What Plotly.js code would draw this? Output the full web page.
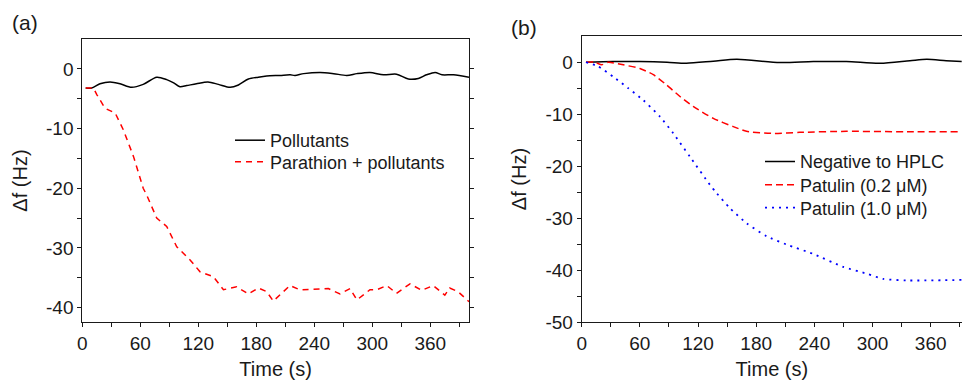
<!DOCTYPE html>
<html>
<head>
<meta charset="utf-8">
<script src="https://cdn.plot.ly/plotly-3.0.1.min.js"></script>
<style>html,body{margin:0;padding:0;background:#fff;}#chart{width:962px;height:380px;}</style>
</head>
<body>
<div id="chart"></div>
<script>
// ---- Panel (a) data ----
const timeA_pollutants = [3.5, 9.7, 18.3, 28.7, 39, 51, 63, 77, 87.3, 94, 101, 108, 118, 130, 140.8, 153, 161.5, 171.8, 182, 190.7, 204.5, 215, 220, 229, 246, 260, 273.6, 284, 297.6, 311.5, 325, 337.3, 347.6, 356, 365, 372, 384, 400];
const dfA_pollutants = [-3.2, -3.2, -2.5, -2.2, -2.5, -3.1, -2.6, -1.4, -1.8, -2.3, -3.0, -2.8, -2.5, -2.2, -2.6, -3.1, -2.7, -1.7, -1.4, -1.2, -1.1, -1.0, -1.1, -0.8, -0.6, -0.8, -1.1, -0.8, -0.6, -1.0, -0.9, -1.7, -1.6, -1.0, -0.6, -1.0, -1.0, -1.4];
const timeA_parathion = [3.5, 11.5, 15, 23.5, 34, 42.4, 53, 63, 66.5, 77, 87.3, 97.7, 111.5, 121.8, 135.6, 146, 159.6, 171.8, 182, 190.7, 197.6, 214.8, 225, 242.4, 254.5, 266.5, 277, 284, 297.6, 304.5, 315, 325, 339, 351, 363, 375, 380, 388.6, 400];
const dfA_parathion = [-3.2, -3.2, -4.3, -6.6, -7.4, -10.2, -14.7, -20, -21.1, -25, -26.4, -29.8, -32, -34, -34.8, -37, -36.5, -37.7, -36.7, -37.3, -38.9, -36.3, -37, -36.9, -36.8, -37.7, -36.8, -38.7, -37, -37, -36.3, -37.6, -36, -37.1, -36.3, -37.9, -36.7, -37.3, -39];

// ---- Panel (b) data ----
const timeB_negative = [4.4, 32.6, 60, 88, 108, 135.7, 160, 204.5, 239, 273, 307.7, 338.6, 356, 376, 392];
const dfB_negative = [0, 0.13, 0.13, 0, -0.2, 0.2, 0.57, -0.07, 0.13, 0.13, -0.2, 0.3, 0.57, 0.3, 0.13];
const timeB_pat02 = [4.4, 13.7, 20.6, 27.5, 42.9, 60, 73.9, 87.7, 101.4, 115, 135.7, 156.4, 170, 197.6, 225, 273, 342, 392];
const dfB_pat02 = [0, 0, -0.5, 0, -0.5, -1.2, -2.4, -4.4, -6.6, -8.5, -10.8, -12.4, -13.3, -13.7, -13.5, -13.3, -13.4, -13.4];
const timeB_pat10 = [4.4, 17, 32.6, 48, 63.5, 80.8, 94.5, 111.7, 132.3, 139.2, 153, 170.2, 190.8, 211.5, 238.9, 269.8, 294, 311, 335, 392];
const dfB_pat10 = [0, -0.8, -2.8, -5, -7.3, -10.5, -13.7, -18.2, -23.6, -25.2, -28.1, -31, -33.5, -35.1, -36.9, -39.4, -40.7, -41.7, -42, -41.9];

// ---- Labels / ticks ----
const namesA = ["Pollutants", "Parathion + pollutants"];
const namesB = ["Negative to HPLC", "Patulin (0.2 \u03BCM)", "Patulin (1.0 \u03BCM)"];
const xTickVals = [0, 30, 60, 90, 120, 150, 180, 210, 240, 270, 300, 330, 360, 390];
const xTickText = ["0", "", "60", "", "120", "", "180", "", "240", "", "300", "", "360", ""];
const yTickValsA = [0, -5, -10, -15, -20, -25, -30, -35, -40];
const yTickTextA = ["0", "", "-10", "", "-20", "", "-30", "", "-40"];
const yTickValsB = [0, -5, -10, -15, -20, -25, -30, -35, -40, -45, -50];
const yTickTextB = ["0", "", "-10", "", "-20", "", "-30", "", "-40", "", "-50"];
const xTitle = "Time (s)";
const yTitle = "\u0394f (Hz)";

const W = 962, H = 380;
const FONT = "Liberation Sans, Arial, sans-serif";
const ink = "#1a1a1a";

const traces = [
  {x: timeA_pollutants, y: dfA_pollutants, name: namesA[0], mode: "lines", xaxis: "x", yaxis: "y",
   line: {color: "#000000", width: 1.5, shape: "spline", smoothing: 0.8}, legend: "legend"},
  {x: timeA_parathion, y: dfA_parathion, name: namesA[1], mode: "lines", xaxis: "x", yaxis: "y",
   line: {color: "#ff0000", width: 1.5, dash: "6px,5px"}, legend: "legend2"},
  {x: timeB_negative, y: dfB_negative, name: namesB[0], mode: "lines", xaxis: "x2", yaxis: "y2",
   line: {color: "#000000", width: 1.5, shape: "spline", smoothing: 0.8}, legend: "legend3"},
  {x: timeB_pat02, y: dfB_pat02, name: namesB[1], mode: "lines", xaxis: "x2", yaxis: "y2",
   line: {color: "#ff0000", width: 1.5, shape: "spline", smoothing: 0.6, dash: "7px,4px"}, legend: "legend4"},
  {x: timeB_pat10, y: dfB_pat10, name: namesB[2], mode: "lines", xaxis: "x2", yaxis: "y2",
   line: {color: "#0000ff", width: 1.8, shape: "spline", smoothing: 0.6, dash: "2px,5px"}, legend: "legend5"}
];

function px(x) { return x / W; }
function py(y) { return 1 - y / H; }

function xax(domain, range) {
  return {
    domain: domain, range: range, autorange: false,
    tickmode: "array", tickvals: xTickVals, ticktext: xTickText,
    ticks: "outside", ticklen: 4, tickwidth: 1, tickcolor: ink,
    showline: true, linecolor: ink, linewidth: 1, mirror: true,
    showgrid: false, zeroline: false,
    tickfont: {family: FONT, size: 19, color: ink},
    title: {text: xTitle, font: {family: FONT, size: 20, color: ink}, standoff: 11}
  };
}
function yax(domain, range, vals, text, mirror, anchor) {
  return {
    domain: domain, range: range, autorange: false, anchor: anchor,
    tickmode: "array", tickvals: vals, ticktext: text,
    ticks: "outside", ticklen: 4, tickwidth: 1, tickcolor: ink,
    showline: true, linecolor: ink, linewidth: 1, mirror: mirror,
    showgrid: false, zeroline: false,
    tickfont: {family: FONT, size: 19, color: ink},
    title: {text: yTitle, font: {family: FONT, size: 20, color: ink}, standoff: 13}
  };
}
function leg(xLeft, yCenter) {
  return {x: px(xLeft), y: py(yCenter), xanchor: "left", yanchor: "middle",
          bgcolor: "rgba(0,0,0,0)", borderwidth: 0,
          font: {family: FONT, size: 18, color: ink}};
}

const layout = {
  width: W, height: H,
  margin: {l: 0, r: 0, t: 0, b: 0},
  paper_bgcolor: "#ffffff", plot_bgcolor: "#ffffff",
  font: {family: FONT, color: ink},
  showlegend: true,
  xaxis: Object.assign(xax([px(82.3), px(469)], [0, 400]), {anchor: "y"}),
  yaxis: yax([py(322), py(39)], [-42.4, 5.0], yTickValsA, yTickTextA, "ticks", "x"),
  xaxis2: Object.assign(xax([px(581.7), 1], [0, 392.3]), {anchor: "y2"}),
  yaxis2: yax([py(322), py(36)], [-50, 5.05], yTickValsB, yTickTextB, false, "x2"),
  legend: leg(230, 140.5),
  legend2: leg(230, 162),
  legend3: leg(760, 161.7),
  legend4: leg(760, 185),
  legend5: leg(760, 208),
  annotations: [
    {text: "(a)", x: px(10), y: py(23), xref: "paper", yref: "paper", xanchor: "left", yanchor: "middle",
     showarrow: false, font: {family: FONT, size: 21, color: ink}},
    {text: "(b)", x: px(509), y: py(27), xref: "paper", yref: "paper", xanchor: "left", yanchor: "middle",
     showarrow: false, font: {family: FONT, size: 21, color: ink}}
  ]
};

Plotly.newPlot("chart", traces, layout, {displayModeBar: false, staticPlot: true});
</script>
</body>
</html>
